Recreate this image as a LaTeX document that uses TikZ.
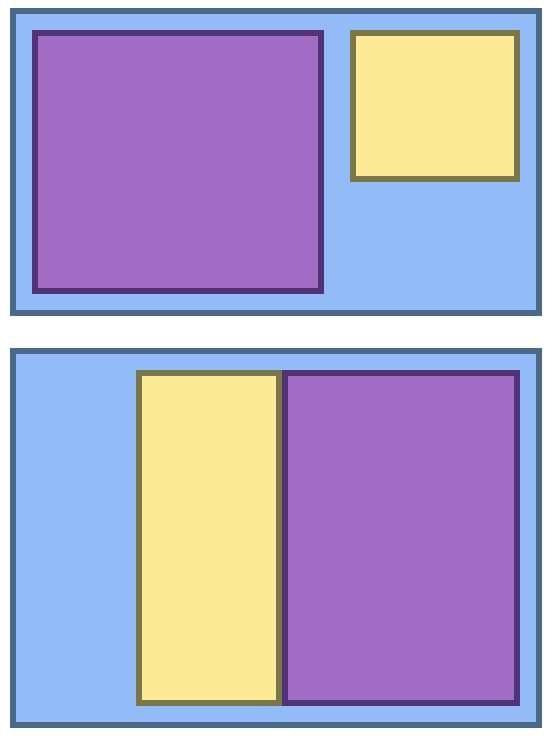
\documentclass[tikz,border=0pt]{standalone}
\definecolor{bfill}{RGB}{147,187,248}
\definecolor{bline}{RGB}{74,104,136}
\definecolor{pfill}{RGB}{160,108,196}
\definecolor{pline}{RGB}{80,52,118}
\definecolor{yfill}{RGB}{253,234,150}
\definecolor{yline}{RGB}{122,120,74}
\tikzset{
  panel/.style={fill=bfill,draw=bline,line width=6pt},
  pbox/.style={fill=pfill,draw=pline,line width=6pt},
  ybox/.style={fill=yfill,draw=yline,line width=6pt}
}
\begin{document}
\begin{tikzpicture}[x=1pt,y=-1pt]
\useasboundingbox (0,0) rectangle (556,740);
% top panel
\draw[panel] (13,11) rectangle (539,313);
\draw[pbox] (35,33) rectangle (321,291);
\draw[ybox] (353,33) rectangle (517,179);
% bottom panel
\draw[panel] (13,351) rectangle (539,725);
\draw[ybox] (139,373) rectangle (279,703);
\draw[pbox] (285,373) rectangle (517,703);
\end{tikzpicture}
\end{document}
